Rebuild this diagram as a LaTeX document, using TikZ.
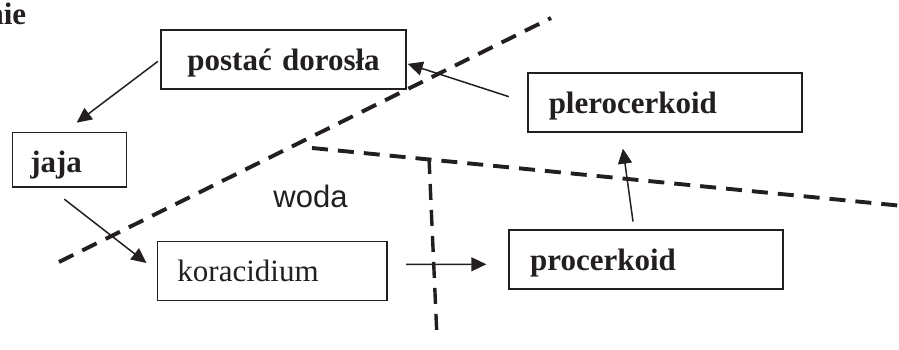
\documentclass[tikz,border=0pt]{standalone}
\usepackage{fontspec}
\setmainfont{Liberation Serif}
\newfontfamily\arialfont{Liberation Sans}
\usetikzlibrary{arrows.meta}
\definecolor{ink}{HTML}{231F20}
\newcommand\diagsize{\fontsize{31}{36}\selectfont}

\begin{document}
\begin{tikzpicture}[x=1pt, y=-1pt, font=\diagsize, color=ink, line width=1.5pt, ->, >={Triangle[length=15pt, width=14pt]}]
    \tikzstyle{stage}    = [rectangle, draw, anchor=north west, inner ysep=0, text height=40.5pt, text depth=18.5pt, align=left]
    \tikzstyle{bstage}   = [stage, font=\diagsize\bfseries]
    \tikzstyle{boundary} = [-, line width=3.9pt, dash pattern=on 16pt off 10pt]

    \useasboundingbox (0,0) rectangle (899,350);

    \node[anchor=base east, inner sep=0, font=\diagsize\bfseries] (nie) at (27,25) {nie};
    \node[bstage, text width=193pt,   inner xsep=26pt, align=center] (dor)  at (160.3,29.3) {postać dorosła};
    \node[bstage, text width=232pt,   inner xsep=21pt]               (ple)  at (527,72.3)   {plerocerkoid};
    \node[bstage, text width=78pt,    inner xsep=18pt, text height=40.3pt, text depth=14pt] (jaja) at (11.5,131.7) {jaja};
    \node[stage,  text width=189.3pt, inner xsep=20pt]               (kor)  at (156.7,240.7) {koracidium};
    \node[bstage, text width=232pt,   inner xsep=21pt]               (pro)  at (508.3,229)  {procerkoid};
    \node[anchor=base west, inner sep=0, font=\arialfont\diagsize]   (woda) at (272.7,207.3) {woda};

    \draw[boundary] (59,262) -- (551,18);
    \draw[boundary] (312,148) -- (898,205.5);
    \draw[boundary, line width=3.4pt] (429,158) -- (437,338);

    \draw[shorten <=3pt,    shorten >=15pt] (dor.west) -- ([xshift=-4.5pt]jaja.north);
    \draw[shorten <=19pt,   shorten >=13pt] ([xshift=-20pt]jaja.south) -- (kor.west);
    \draw[shorten <=18.5pt, shorten >=22pt] ([yshift=6.5pt]kor.east) -- ([yshift=-5pt]pro.west);
    \draw[shorten <=7.5pt,  shorten >=16pt] ([xshift=-12pt]pro.north) -- ([xshift=-44pt]ple.south);
    \draw[shorten <=19pt,   shorten >=1pt]  (ple.west) -- ([yshift=-4pt]dor.east);
\end{tikzpicture}
\end{document}
